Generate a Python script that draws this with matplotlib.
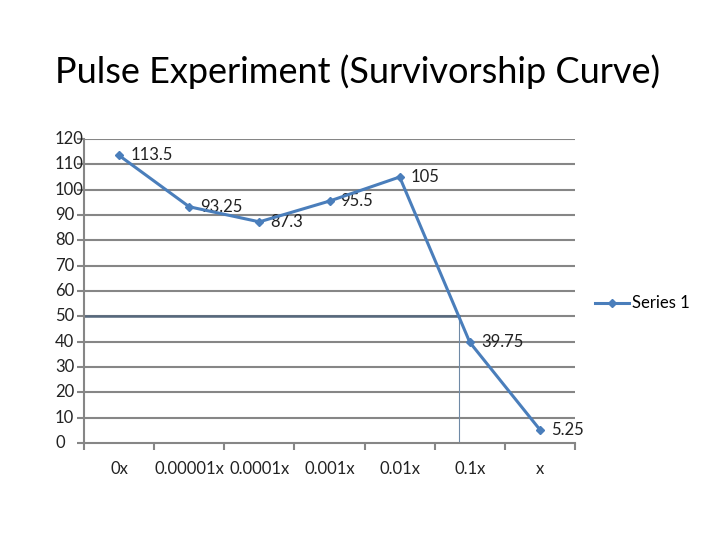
import matplotlib.pyplot as plt
import matplotlib.transforms as mtransforms
import numpy as np

# values
doses = ["0x", "0.00001x", "0.0001x", "0.001x", "0.01x", "0.1x", "x"]
survivors = [113.5, 93.25, 87.3, 95.5, 105, 39.75, 5.25]
y_ticks = [0, 10, 20, 30, 40, 50, 60, 70, 80, 90, 100, 110, 120]
cutoff = 50

line_color = "#4a7ebb"
grid_color = "#868686"

plt.rcParams["font.family"] = ["Lato", "DejaVu Sans"]

fig = plt.figure(figsize=(7.2, 5.4), dpi=100)
ax = fig.add_axes([0.1167, 0.1796, 0.6819, 0.563])

x = np.arange(len(doses))
ax.plot(x, survivors, color=line_color, lw=2.2, marker="D", ms=4.5,
        label="Series 1", zorder=4)

for xi, yi in zip(x, survivors):
    ax.annotate(f"{yi:g}", (xi, yi), xytext=(8, 0), textcoords="offset points",
                ha="left", va="center", fontsize=12, color="#222222")

# where the curve falls through the cutoff line
i = next(k for k in range(len(survivors) - 1)
         if survivors[k] > cutoff >= survivors[k + 1])
frac = (survivors[i] - cutoff) / (survivors[i] - survivors[i + 1])
x_cut = x[i] + frac

ax.set_xlim(-0.5, len(doses) - 0.5)
ax.set_ylim(0, 120)

for yv in y_ticks[1:]:
    ax.axhline(yv, color=grid_color, lw=1.5, zorder=1)
ax.plot([-0.5, x_cut], [cutoff, cutoff], color="#56687d", lw=1.8, zorder=2)
ax.plot([x_cut, x_cut], [0, cutoff], color="#6f8aa6", lw=0.8, zorder=2)

ax.set_yticks(y_ticks)
ax.set_yticklabels([])
ax.tick_params(axis="y", length=5, width=1.5, color=grid_color)
trans = mtransforms.blended_transform_factory(fig.transFigure, ax.transData)
for yv in y_ticks:
    ax.text(55 / 720, yv, str(yv), transform=trans, ha="left", va="center",
            fontsize=12, color="#222222")

ax.set_xticks(np.arange(-0.5, len(doses), 1.0))
ax.set_xticklabels([])
ax.tick_params(axis="x", length=5, width=1.5, color=grid_color)
ax.set_xticks(x, minor=True)
ax.set_xticklabels(doses, minor=True, fontsize=12, color="#222222")
ax.tick_params(axis="x", which="minor", length=0, pad=13)

for side in ["top", "right"]:
    ax.spines[side].set_visible(False)
for side in ["left", "bottom"]:
    ax.spines[side].set_color(grid_color)
    ax.spines[side].set_linewidth(1.5)

fig.legend(loc="center left", bbox_to_anchor=(0.806, 0.438), frameon=False,
           fontsize=12, handlelength=2.0, handletextpad=0.2)

fig.text(0.497, 0.867, "Pulse Experiment (Survivorship Curve)", ha="center",
         va="center", fontsize=26, color="black")

fig.savefig("out.png", dpi=100)
